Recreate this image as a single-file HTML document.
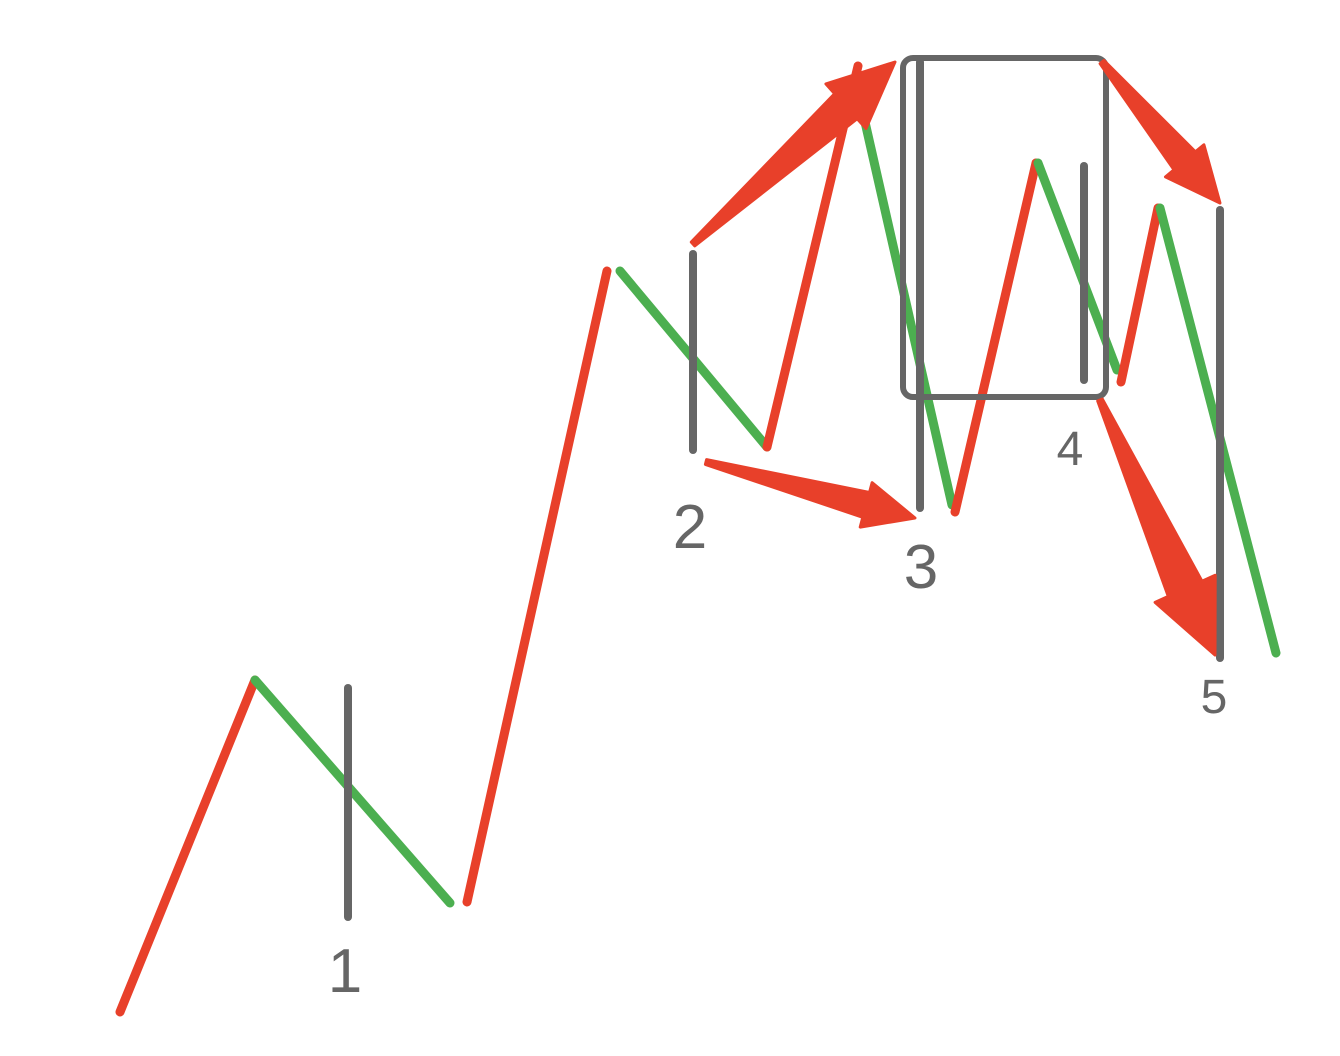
<!DOCTYPE html>
<html><head><meta charset="utf-8"><style>
html,body{margin:0;padding:0;background:#fff;}
svg{display:block;}
</style></head><body>
<svg id="chart" width="1340" height="1056" viewBox="0 0 1340 1056" xmlns="http://www.w3.org/2000/svg"></svg>
<script>
// zigzag segments: [x1,y1,x2,y2], color
const segX1 = [120,255,467,620,767,860,955,1038,1121,1160];
const segY1 = [1012,680,902,271,447,100,512,163,382,208];
const segX2 = [255,450,607,767,858,952,1036,1117,1158,1276];
const segY2 = [680,903,271,447,66,505,163,370,208,653];
const segColor = ['red','green','red','green','red','green','red','green','red','green'];
// vertical marker bars
const barX = [348,693,920,1084,1220];
const barTop = [688,254,62,166,210];
const barBottom = [917,450,508,380,658];
// wave labels
const labelText = ['1','2','3','4','5'];
const labelX = [345,690,921,1070,1214];
const labelY = [992,548,588,465,713];
const labelSize = [62,62,62,48,48];
// arrows: start, end, head width
const arrX1 = [693,706,1102,1100];
const arrY1 = [244,462,62,400];
const arrX2 = [895,915,1220,1215];
const arrY2 = [62,518,203,655];
const arrW = [60,46,50,66];

const svg = document.getElementById('chart');
const NS = 'http://www.w3.org/2000/svg';
const colors = {red:'#e8402a', green:'#4caf50'};

for (let i=0;i<segX1.length;i++){
  const l=document.createElementNS(NS,'line');
  l.setAttribute('x1',segX1[i]);l.setAttribute('y1',segY1[i]);
  l.setAttribute('x2',segX2[i]);l.setAttribute('y2',segY2[i]);
  l.setAttribute('stroke',colors[segColor[i]]);l.setAttribute('stroke-width',9);
  l.setAttribute('stroke-linecap','round');
  
  
  svg.appendChild(l);
}

for (let i=0;i<barX.length;i++){
  const l=document.createElementNS(NS,'line');
  l.setAttribute('x1',barX[i]);l.setAttribute('y1',barTop[i]);
  l.setAttribute('x2',barX[i]);l.setAttribute('y2',barBottom[i]);
  l.setAttribute('stroke','#666');l.setAttribute('stroke-width',8);
  l.setAttribute('stroke-linecap','round');
  
  
  svg.appendChild(l);
}

const r=document.createElementNS(NS,'rect');
r.setAttribute('x',903);r.setAttribute('y',58);r.setAttribute('width',203);r.setAttribute('height',339);
r.setAttribute('rx',10);r.setAttribute('fill','none');r.setAttribute('stroke','#666');r.setAttribute('stroke-width',6);


svg.appendChild(r);

for (let i=0;i<arrX1.length;i++){
  const x1=arrX1[i],y1=arrY1[i],x2=arrX2[i],y2=arrY2[i],w=arrW[i];
  const dx=x2-x1,dy=y2-y1,L=Math.hypot(dx,dy),ux=dx/L,uy=dy/L,nx=-uy,ny=ux;
  const hl=w*1.1, tail=2.5, shaft=w*0.28;
  const bx=x2-ux*hl, by=y2-uy*hl;
  const pts=[
    [x1+nx*tail,y1+ny*tail],[bx+nx*shaft,by+ny*shaft],[bx+nx*w/2,by+ny*w/2],[x2,y2],
    [bx-nx*w/2,by-ny*w/2],[bx-nx*shaft,by-ny*shaft],[x1-nx*tail,y1-ny*tail]];
  const p=document.createElementNS(NS,'polygon');
  p.setAttribute('points',pts.map(q=>q[0].toFixed(1)+','+q[1].toFixed(1)).join(' '));
  p.setAttribute('fill','#e8402a');p.setAttribute('stroke','#e8402a');p.setAttribute('stroke-width',3);
  p.setAttribute('stroke-linejoin','round');
  
  
  svg.appendChild(p);
}

for (let i=0;i<labelText.length;i++){
  const t=document.createElementNS(NS,'text');
  t.setAttribute('x',labelX[i]);t.setAttribute('y',labelY[i]);
  t.setAttribute('text-anchor','middle');t.setAttribute('font-size',labelSize[i]);
  t.setAttribute('font-family','Liberation Sans, sans-serif');t.setAttribute('fill','#666');
  t.textContent=labelText[i];
  
  
  svg.appendChild(t);
}
</script>
</body></html>
